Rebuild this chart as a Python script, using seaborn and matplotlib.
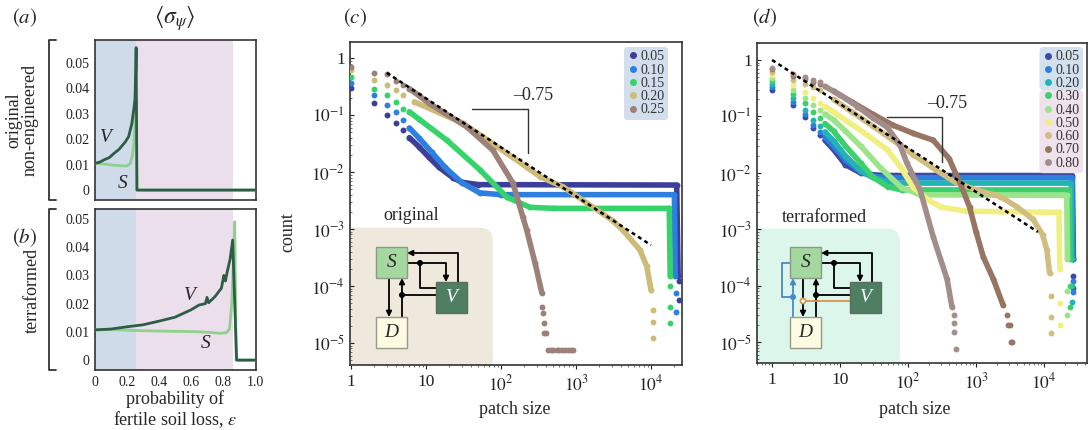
import numpy as np
import seaborn as sns
import matplotlib.pyplot as plt
from matplotlib.patches import Rectangle, FancyBboxPatch, Circle
from matplotlib.lines import Line2D
from matplotlib.ticker import FixedLocator, FixedFormatter, LogLocator, NullFormatter

W, H = 1090, 430

# ---- (a) original: <sigma_psi> against epsilon
A_EPS_V = [0, 0.03, 0.06, 0.09, 0.12, 0.15, 0.17, 0.19, 0.21, 0.23, 0.245, 0.25, 0.255, 0.257, 0.262, 1.0]
A_SIG_V = [0.0105, 0.011, 0.012, 0.0128, 0.0145, 0.016, 0.0175, 0.019, 0.021, 0.026, 0.033, 0.036, 0.048, 0.056, 0.0, 0.0]
A_EPS_S = [0, 0.05, 0.1, 0.15, 0.2, 0.22, 0.235, 0.245, 0.252, 0.256, 0.262, 1.0]
A_SIG_S = [0.0105, 0.0103, 0.0099, 0.0096, 0.0095, 0.0105, 0.014, 0.02, 0.028, 0.035, 0.0, 0.0]

# ---- (b) terraformed
B_EPS_V = [0, 0.1, 0.2, 0.3, 0.4, 0.5, 0.6, 0.65, 0.69, 0.70, 0.71, 0.75, 0.79, 0.805, 0.815, 0.825, 0.845, 0.86, 0.885, 1.0]
B_SIG_V = [0.0107, 0.011, 0.0118, 0.0125, 0.0138, 0.0152, 0.0178, 0.0195, 0.020, 0.0222, 0.0203, 0.0225, 0.0255, 0.030, 0.028, 0.031, 0.036, 0.0425, 0.0, 0.0]
B_EPS_S = [0, 0.1, 0.2, 0.3, 0.4, 0.5, 0.6, 0.7, 0.78, 0.82, 0.84, 0.855, 0.865, 0.873, 0.882, 1.0]
B_SIG_S = [0.0107, 0.0108, 0.0106, 0.0104, 0.0103, 0.0102, 0.0101, 0.0099, 0.0095, 0.0097, 0.011, 0.02, 0.035, 0.049, 0.0, 0.0]

# ---- (c) patch size distributions, original model
EPS_C = ['0.05', '0.10', '0.15', '0.20', '0.25']
SIZE_C = [
    [1, 2, 3, 4, 5, 6, 8, 11, 15, 23, 30, 50, 22000, 23000],
    [1, 2, 3, 4, 5, 6, 8, 12, 18, 30, 52, 100, 20500, 21000],
    [1, 2, 3, 4, 5, 6, 8, 19, 52, 120, 245, 500, 17500, 18000],
    [1, 2, 3, 4, 5, 7, 31, 144, 330, 670, 3100, 4200, 7100, 8800, 10000],
    [1, 2, 3, 4, 5, 6, 8, 11, 35, 78, 144, 196, 220, 285, 350],
]
COUNT_C = [
    [0.30, 0.16, 0.10, 0.072, 0.055, 0.040, 0.028, 0.018, 0.012, 0.0079, 0.0066, 0.0060, 0.0059, 0.00015],
    [0.36, 0.22, 0.15, 0.114, 0.082, 0.059, 0.040, 0.022, 0.012, 0.0065, 0.0043, 0.0040, 0.0040, 0.00015],
    [0.46, 0.29, 0.22, 0.17, 0.13, 0.114, 0.085, 0.036, 0.011, 0.0036, 0.0024, 0.0023, 0.0023, 0.00015],
    [0.62, 0.41, 0.34, 0.275, 0.225, 0.17, 0.072, 0.018, 0.0083, 0.0055, 0.0014, 0.00096, 0.00043, 0.00022, 0.000085],
    [0.69, 0.54, 0.52, 0.40, 0.34, 0.29, 0.22, 0.16, 0.062, 0.024, 0.0064, 0.0016, 0.00096, 0.00025, 0.000076],
]
TAIL_SIZE_C = [
    [23500, 23500],
    [21500, 21500],
    [18000, 18000, 18000],
    [10500, 10500, 10500],
    [350, 360, 370, 380, 400, 420, 460, 500, 550, 600, 660, 720, 790, 860, 920],
]
TAIL_COUNT_C = [
    [1.2e-4, 5.6e-5],
    [7.6e-5, 3.5e-5],
    [1.0e-4, 4.3e-5, 2.2e-5],
    [3.8e-5, 2.3e-5, 1.2e-5],
    [4.3e-5, 3.4e-5, 2.2e-5, 1.5e-5, 1.5e-5, 7.6e-6, 7.6e-6, 7.6e-6, 7.6e-6, 7.6e-6,
     7.6e-6, 7.6e-6, 7.6e-6, 7.6e-6, 7.6e-6],
]
FIT_C_SIZE = [3, 10000]
FIT_C_COUNT = [0.55, 5.2e-4]

# ---- (d) patch size distributions, terraformed model
EPS_D = ['0.05', '0.10', '0.20', '0.30', '0.40', '0.50', '0.60', '0.70', '0.80']
SIZE_D = [
    [1, 2, 3, 4, 5, 6, 8, 12, 20, 30, 45, 26000, 27000],
    [1, 2, 3, 4, 5, 6, 8, 12, 20, 30, 50, 25500, 26500],
    [1, 2, 3, 4, 5, 6, 8, 12, 20, 30, 60, 25000, 25500],
    [1, 2, 3, 4, 5, 6, 8, 12, 20, 30, 50, 80, 23500, 24000],
    [1, 2, 3, 4, 5, 6, 8, 12, 20, 40, 80, 150, 21500, 22000],
    [1, 2, 3, 4, 5, 6, 8, 14, 25, 49, 80, 118, 200, 300, 700, 16500, 17000],
    [1, 2, 3, 4, 5, 8, 15, 30, 60, 120, 250, 500, 1000, 2270, 4000, 6900, 9500, 11000, 12000],
    [1, 2, 3, 4, 5, 8, 15, 30, 60, 120, 234, 400, 600, 800, 1000, 1270, 1800, 2500],
    [1, 2, 3, 4, 5, 6, 10, 18, 30, 49, 75, 96, 150, 234, 375, 440],
]
COUNT_D = [
    [0.29, 0.16, 0.098, 0.063, 0.047, 0.038, 0.026, 0.014, 0.010, 0.0093, 0.0090, 0.0090, 0.0003],
    [0.33, 0.18, 0.11, 0.072, 0.054, 0.043, 0.030, 0.017, 0.0105, 0.0088, 0.0082, 0.0082, 0.0003],
    [0.37, 0.21, 0.13, 0.087, 0.067, 0.053, 0.037, 0.020, 0.011, 0.0083, 0.0066, 0.0066, 0.0003],
    [0.42, 0.25, 0.17, 0.12, 0.094, 0.075, 0.055, 0.030, 0.015, 0.0085, 0.0057, 0.0050, 0.0050, 0.0003],
    [0.48, 0.30, 0.21, 0.16, 0.13, 0.11, 0.087, 0.055, 0.030, 0.012, 0.0055, 0.0041, 0.0040, 0.0003],
    [0.55, 0.36, 0.27, 0.21, 0.17, 0.15, 0.12, 0.076, 0.047, 0.026, 0.012, 0.0056, 0.0033, 0.0025, 0.0021, 0.0020, 0.0002],
    [0.62, 0.45, 0.38, 0.33, 0.29, 0.20, 0.12, 0.068, 0.038, 0.021, 0.0115, 0.0068, 0.0050, 0.0038, 0.0025, 0.0015, 0.0008, 0.00043, 0.00017],
    [0.68, 0.52, 0.46, 0.41, 0.37, 0.28, 0.18, 0.11, 0.07, 0.05, 0.038, 0.018, 0.006, 0.0025, 0.0009, 0.00033, 0.00013, 0.000045],
    [0.72, 0.56, 0.50, 0.44, 0.40, 0.34, 0.24, 0.15, 0.095, 0.065, 0.032, 0.015, 0.005, 0.00074, 0.00013, 0.000043],
]
TAIL_SIZE_D = [
    [27000, 27000],
    [26500, 26500],
    [25500, 25500],
    [24000, 24000],
    [22000, 22000],
    [17000, 17000],
    [12500, 12500, 12500],
    [2800, 2900, 3100, 3300, 3400],
    [480, 480, 480, 500],
]
TAIL_COUNT_D = [
    [1.5e-4, 9.0e-5],
    [1.2e-4, 7.9e-5],
    [1.0e-4, 5.2e-5],
    [1.0e-4, 4.3e-5],
    [8.0e-5, 3.1e-5],
    [5.0e-5, 2.0e-5],
    [6.5e-5, 2.8e-5, 1.45e-5],
    [3.0e-5, 2.0e-5, 2.0e-5, 1.0e-5, 1.0e-5],
    [3.1e-5, 2.2e-5, 1.5e-5, 7.6e-6],
]
FIT_D_SIZE = [1, 8100]
FIT_D_COUNT = [1.0, 9.0e-4]

COLORS_C = ['#3b3f9a', '#2d7fe0', '#35d46a', '#cdbb78', '#9b8178']
COLORS_D = ['#3a4aa6', '#2e7fdd', '#22b3b5', '#3ccf6e', '#9be48a', '#f0ef80',
            '#d2bd80', '#987563', '#a38d8a']

V_COL = '#2d5d47'
S_COL = '#8fd08f'
BLUE_BG = '#cfdbe8'
PINK_BG = '#ecdfec'

sns.set_style('white')
plt.rcParams['font.family'] = ['Liberation Serif', 'DejaVu Serif']
plt.rcParams['mathtext.fontset'] = 'stix'
plt.rcParams['axes.edgecolor'] = '#333333'
plt.rcParams['axes.linewidth'] = 1.2


def box(x0, y0, x1, y1):
    return [x0 / W, 1 - y1 / H, (x1 - x0) / W, (y1 - y0) / H]


fig = plt.figure(figsize=(W / 100, H / 100), dpi=100)

# ---------------- panels a and b ----------------
ax_a = fig.add_axes(box(95, 40, 256, 200))
ax_b = fig.add_axes(box(95, 209, 256, 370))

for ax, ev, sv, es, ss, ylim in [
        (ax_a, A_EPS_V, A_SIG_V, A_EPS_S, A_SIG_S, (-0.0039, 0.059)),
        (ax_b, B_EPS_V, B_SIG_V, B_EPS_S, B_SIG_S, (-0.0035, 0.0535))]:
    ax.axvspan(0, 0.256, color=BLUE_BG, lw=0, zorder=0)
    ax.axvspan(0.256, 0.865, color=PINK_BG, lw=0, zorder=0)
    sns.lineplot(x=es, y=ss, ax=ax, color=S_COL, lw=2, sort=False, estimator=None, zorder=3)
    sns.lineplot(x=ev, y=sv, ax=ax, color=V_COL, lw=2, sort=False, estimator=None, zorder=4)
    ax.set_xlim(0, 1.006)
    ax.set_ylim(*ylim)
    ax.set_yticks([0, 0.01, 0.02, 0.03, 0.04, 0.05])
    ax.set_yticklabels(['0', '0.01', '0.02', '0.03', '0.04', '0.05'])
    ax.set_xticks([0, 0.2, 0.4, 0.6, 0.8, 1.0])
    ax.tick_params(labelsize=10, length=2, pad=2, colors='#222222')
    ax.set_xlabel('')
    ax.set_ylabel('')

ax_a.set_xticklabels([])
ax_b.set_xticklabels(['0', '0.2', '0.4', '0.6', '0.8', '1.0'])

ax_a.text(0.07, 0.0205, 'V', fontsize=14, style='italic', ha='center', va='center')
ax_a.text(0.175, 0.0027, 'S', fontsize=14, style='italic', ha='center', va='center')
ax_b.text(0.594, 0.023, 'V', fontsize=14, style='italic', ha='center', va='center')
ax_b.text(0.69, 0.006, 'S', fontsize=14, style='italic', ha='center', va='center')


# ---------------- panels c and d ----------------
def draw_series(ax, sizes, counts, tsz, tct, color):
    sizes = np.array(sizes, dtype=float)
    counts = np.array(counts, dtype=float)
    body = sizes >= 6
    sns.lineplot(x=sizes[body], y=counts[body], ax=ax, color=color, lw=4,
                 sort=False, estimator=None, solid_capstyle='round', zorder=3)
    sns.scatterplot(x=sizes, y=counts, ax=ax, color=color, s=18, linewidth=0, zorder=3)
    sns.scatterplot(x=tsz, y=tct, ax=ax, color=color, s=18, linewidth=0, zorder=3)


def style_log(ax, xlim, ylim):
    ax.set_xlim(*xlim)
    ax.set_ylim(*ylim)
    ax.xaxis.set_major_locator(FixedLocator([1, 10, 100, 1000, 10000]))
    ax.xaxis.set_major_formatter(FixedFormatter(['1', '10', '$10^2$', '$10^3$', '$10^4$']))
    ax.yaxis.set_major_locator(FixedLocator([1e-5, 1e-4, 1e-3, 1e-2, 1e-1, 1]))
    ax.yaxis.set_major_formatter(FixedFormatter(['$10^{-5}$', '$10^{-4}$', '$10^{-3}$',
                                                 '$10^{-2}$', '$10^{-1}$', '1']))
    ax.xaxis.set_minor_locator(LogLocator(subs=range(2, 10)))
    ax.yaxis.set_minor_locator(LogLocator(subs=range(2, 10)))
    ax.xaxis.set_minor_formatter(NullFormatter())
    ax.yaxis.set_minor_formatter(NullFormatter())
    ax.tick_params(which='major', labelsize=12.5, length=3, colors='#222222')
    ax.tick_params(which='minor', length=1.5, colors='#555555')
    ax.tick_params(axis='x', which='both', bottom=True, direction='out')
    ax.tick_params(axis='y', which='both', left=True, direction='in')
    ax.set_xlabel('')
    ax.set_ylabel('')


ax_c = fig.add_axes(box(350, 42, 682, 365))
ax_d = fig.add_axes(box(757, 43, 1087, 363))
for ax in (ax_c, ax_d):
    ax.set_xscale('log')
    ax.set_yscale('log')

# inset backgrounds
ax_c.add_patch(FancyBboxPatch((-0.05, -0.05), 0.48, 0.475, boxstyle='round,pad=0,rounding_size=0.04',
                              transform=ax_c.transAxes, fc='#efe8dc', ec='none', zorder=0.5))
ax_d.add_patch(FancyBboxPatch((-0.05, -0.05), 0.483, 0.47, boxstyle='round,pad=0,rounding_size=0.04',
                              transform=ax_d.transAxes, fc='#dcf6ec', ec='none', zorder=0.5))

for i in range(len(EPS_C)):
    draw_series(ax_c, SIZE_C[i], COUNT_C[i], TAIL_SIZE_C[i], TAIL_COUNT_C[i], COLORS_C[i])
for i in range(len(EPS_D)):
    draw_series(ax_d, SIZE_D[i], COUNT_D[i], TAIL_SIZE_D[i], TAIL_COUNT_D[i], COLORS_D[i])

sns.lineplot(x=FIT_C_SIZE, y=FIT_C_COUNT, ax=ax_c, color='black', lw=1.8,
             linestyle=(0, (1.6, 1.4)), estimator=None, zorder=5)
sns.lineplot(x=FIT_D_SIZE, y=FIT_D_COUNT, ax=ax_d, color='black', lw=1.8,
             linestyle=(0, (1.6, 1.4)), estimator=None, zorder=5)

# slope markers
ax_c.plot([41, 230, 230], [0.127, 0.127, 0.0215], color='#333333', lw=1, zorder=5)
ax_c.text(268, 0.22, '\u20130.75', fontsize=13, ha='center', va='center')
ax_d.plot([49, 316, 316], [0.096, 0.096, 0.0156], color='#333333', lw=1, zorder=5)
ax_d.text(375, 0.17, '\u20130.75', fontsize=13, ha='center', va='center')

style_log(ax_c, (0.97, 2.59e4), (4.1e-6, 1.91))
style_log(ax_d, (0.60, 4.27e4), (4.3e-6, 2.0))

# legends
hc = [Line2D([], [], marker='o', ls='none', color=c, markersize=4) for c in COLORS_C]
leg_c = ax_c.legend(hc, EPS_C, loc='upper right', bbox_to_anchor=(0.958, 0.985), fontsize=10,
                    frameon=True, facecolor='#d2deeb', edgecolor='none', framealpha=1,
                    handlelength=0.7, handletextpad=0.2, borderpad=0.25, labelspacing=0.02,
                    borderaxespad=0)
hd = [Line2D([], [], marker='o', ls='none', color=c, markersize=4) for c in COLORS_D]
leg_d = ax_d.legend(hd, EPS_D, loc='upper right', bbox_to_anchor=(0.988, 0.9875), fontsize=10,
                    frameon=False, handlelength=0.7, handletextpad=0.2, borderpad=0.25,
                    labelspacing=0.02, borderaxespad=0)
for t in list(leg_c.get_texts()) + list(leg_d.get_texts()):
    t.set_color('#333333')

fig.canvas.draw()
bb = leg_d.get_window_extent()
split = 0.5 * (leg_d.get_texts()[2].get_window_extent().y0 + leg_d.get_texts()[3].get_window_extent().y1)
inv = ax_d.transAxes.inverted()
(x0, y0) = inv.transform((bb.x0, bb.y0))
(x1, y1) = inv.transform((bb.x1, bb.y1))
(_, ys) = inv.transform((bb.x0, split))
ax_d.add_patch(FancyBboxPatch((x0, ys), x1 - x0, y1 - ys, boxstyle='round,pad=0,rounding_size=0.012',
                              transform=ax_d.transAxes, fc='#d3e0ee', ec='none', zorder=4.8))
ax_d.add_patch(FancyBboxPatch((x0, y0), x1 - x0, ys - y0, boxstyle='round,pad=0,rounding_size=0.012',
                              transform=ax_d.transAxes, fc='#eee2ec', ec='none', zorder=4.8))

# ---------------- overlay in pixel coordinates ----------------
ov = fig.add_axes([0, 0, 1, 1])
ov.set_xlim(0, W)
ov.set_ylim(H, 0)
ov.axis('off')
ov.patch.set_visible(False)

ov.text(12, 18, r'$(\mathit{a})$', fontsize=15, ha='left', va='center')
ov.text(12, 238, r'$(\mathit{b})$', fontsize=15, ha='left', va='center')
ov.text(343, 18, r'$(\mathit{c})$', fontsize=15, ha='left', va='center')
ov.text(752, 18, r'$(\mathit{d})$', fontsize=15, ha='left', va='center')
ov.text(175, 18, r'$\langle\sigma_\psi\rangle$', fontsize=17, ha='center', va='center')

ov.text(22, 120, 'original\nnon-engineered', fontsize=13, rotation=90, ha='center', va='center',
        linespacing=1.0)
ov.text(32, 290, 'terraformed', fontsize=13, rotation=90, ha='center', va='center')
ov.text(175, 399, 'probability of', fontsize=13, ha='center', va='center')
ov.text(175, 420, 'fertile soil loss, $\\varepsilon$', fontsize=13, ha='center', va='center')
ov.text(288, 232, 'count', fontsize=13, rotation=90, ha='center', va='center')
ov.text(515, 410, 'patch size', fontsize=13, ha='center', va='center')
ov.text(915, 410, 'patch size', fontsize=13, ha='center', va='center')
ov.text(411, 216, 'original', fontsize=13, ha='center', va='center')
ov.text(824, 217, 'terraformed', fontsize=13, ha='center', va='center')

# brackets beside panels a and b
for (ya, yb) in [(40, 200), (209, 370)]:
    ov.plot([56, 49, 49, 56], [ya, ya, yb, yb], color='#333333', lw=1.3)


def seg(pts, color='black'):
    xs, ys = zip(*pts)
    ov.plot(xs, ys, color=color, lw=1.3, solid_capstyle='butt')


def arrow(p0, p1, color='black'):
    ov.annotate('', xy=p1, xytext=p0,
                arrowprops=dict(arrowstyle='-|>', lw=1.3, color=color, mutation_scale=8,
                                shrinkA=0, shrinkB=0))


def dot(p, color='black'):
    ov.add_patch(Circle(p, 2.3, fc=color, ec=color, zorder=6))


def diagram(ox, oy, terra):
    def P(x, y):
        return (ox + x, oy + y)
    size = 31
    ov.add_patch(Rectangle(P(0, 0), size, size, fc='#a4d89f', ec='#8a9a8a', lw=1, zorder=4))
    ov.add_patch(Rectangle(P(60, 35), size, size, fc='#4f7f62', ec='#5d6b60', lw=1, zorder=4))
    ov.add_patch(Rectangle(P(0, 70), size, size, fc='#fdfbe2', ec='#9a9a8a', lw=1, zorder=4))
    ov.text(*P(15.5, 15.5), 'S', fontsize=14, style='italic', ha='center', va='center', zorder=5)
    ov.text(*P(75.5, 50.5), 'V', fontsize=14, style='italic', ha='center', va='center',
            color='white', zorder=5)
    ov.text(*P(15.5, 85.5), 'D', fontsize=14, style='italic', ha='center', va='center', zorder=5)
    # V -> S
    seg([P(82, 35), P(82, 6), P(45, 6)])
    arrow(P(45, 6), P(31, 6))
    # S -> V, modulated
    seg([P(31, 16), P(70, 16), P(70, 24)])
    arrow(P(70, 24), P(70, 35))
    dot(P(44, 16))
    seg([P(44, 16), P(44, 41), P(60, 41)])
    # S -> D
    seg([P(13, 31), P(13, 58)])
    arrow(P(13, 58), P(13, 70))
    # D -> S, modulated
    seg([P(26, 70), P(26, 43)])
    arrow(P(26, 43), P(26, 31))
    dot(P(26, 48))
    seg([P(26, 48), P(60, 48)])
    if terra:
        orange = '#d9924a'
        blue = '#4a88cc'
        seg([P(13, 54), P(60, 54)], orange)
        ov.add_patch(Circle(P(13, 54), 2.6, fc='white', ec=orange, lw=1.2, zorder=6))
        seg([P(3, 70), P(3, 43)], blue)
        arrow(P(3, 43), P(3, 31), blue)
        dot(P(3, 50), blue)
        seg([P(3, 50), P(-8, 50), P(-8, 16), P(0, 16)], blue)


diagram(376, 247, False)
diagram(790, 247, True)

fig.savefig('out.png', dpi=100)
